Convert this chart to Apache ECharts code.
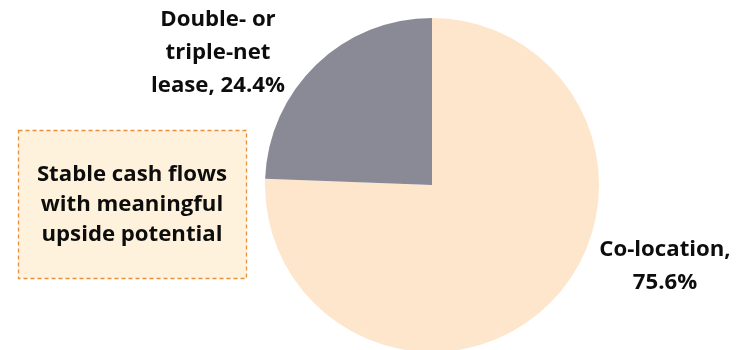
<!DOCTYPE html>
<html><head><meta charset="utf-8">
<script src="https://cdn.jsdelivr.net/npm/echarts@6/dist/echarts.min.js"></script>
<style>html,body{margin:0;padding:0;background:#fff}#c{width:737px;height:350px}</style>
</head><body><div id="c"></div>
<script>
const categories = ["Co-location", "Double- or triple-net lease"];
const labelTexts = ["Co-location,\n75.6%", "Double- or\ntriple-net\nlease, 24.4%"];
const values = [75.6, 24.4];
const colors = ["#FDE6CB", "#8A8A97"];
const noteText = "Stable cash flows\nwith meaningful\nupside potential";

const labelPos = [{x: 665, y: 266}, {x: 218, y: 53}];
const FONT = "'Open Sans', sans-serif";

const chart = echarts.init(document.getElementById('c'), null, {renderer: 'canvas'});
chart.setOption({
  animation: false,
  series: [{
    type: 'pie',
    center: [432, 185],
    radius: 167,
    startAngle: 90,
    clockwise: true,
    data: categories.map((c, i) => ({
      name: c, value: values[i],
      itemStyle: {color: colors[i]},
      label: {formatter: labelTexts[i]}
    })),
    itemStyle: {borderWidth: 0},
    label: {
      show: true, position: 'outside',
      fontFamily: FONT, fontWeight: 'bold', fontSize: 22.2, lineHeight: 33,
      color: '#0d0d0d', align: 'center'
    },
    labelLine: {show: false},
    labelLayout: function (p) {
      const pos = labelPos[p.dataIndex];
      return {x: pos.x, y: pos.y, align: 'center', verticalAlign: 'middle'};
    }
  }],
  graphic: [{
    type: 'rect',
    shape: {x: 18.5, y: 130.5, width: 228, height: 148},
    style: {fill: '#FFF2DC', stroke: '#E8913A', lineWidth: 1.3, lineDash: [4, 3]}
  }, {
    type: 'text',
    x: 132, y: 205,
    style: {
      text: noteText, fontFamily: FONT, fontWeight: 'bold', fontSize: 22.2,
      lineHeight: 30, fill: '#0d0d0d', align: 'center', verticalAlign: 'middle'
    }
  }]
});
</script></body></html>
